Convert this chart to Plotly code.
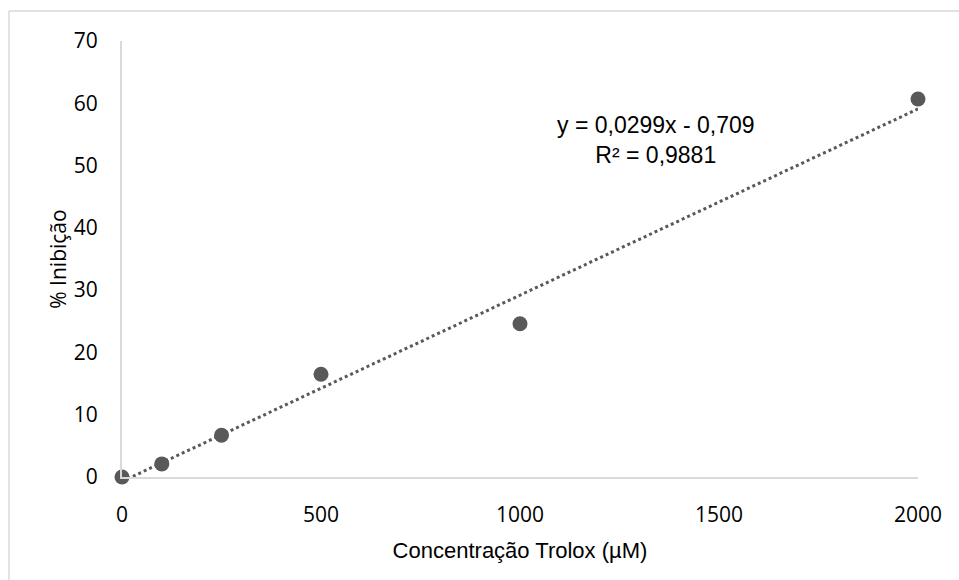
import plotly.graph_objects as go

conc = [0, 100, 250, 500, 1000, 2000]
inhib = [0, 2.1, 6.7, 16.5, 24.6, 60.7]
slope = 0.0299
intercept = -0.709
trend_x = [0, 2000]
trend_y = [slope * x + intercept for x in trend_x]
x_ticks = [0, 500, 1000, 1500, 2000]
y_ticks = [0, 10, 20, 30, 40, 50, 60, 70]

fig = go.Figure()
fig.add_trace(go.Scatter(x=trend_x, y=trend_y, mode="lines",
                         line=dict(color="#595959", width=3, dash="dot"),
                         cliponaxis=False, showlegend=False, hoverinfo="skip"))
fig.add_trace(go.Scatter(x=conc, y=inhib, mode="markers",
                         marker=dict(color="#595959", size=15),
                         cliponaxis=False, showlegend=False))

fig.update_layout(
    width=959, height=580,
    margin=dict(l=122, r=41, t=41, b=103),
    paper_bgcolor="white", plot_bgcolor="white",
    xaxis=dict(range=[0, 2000], tickvals=x_ticks, showgrid=False, zeroline=False,
               showline=True, linecolor="#d9d9d9", linewidth=2,
               ticks="outside", ticklen=18, tickcolor="rgba(0,0,0,0)",
               tickfont=dict(family="Open Sans", size=21, color="black"),
               title=dict(text="Concentração Trolox (µM)", standoff=15,
                          font=dict(family="Liberation Sans", size=22, color="black"))),
    yaxis=dict(range=[0, 70], tickvals=y_ticks, showgrid=False, zeroline=False,
               showline=True, linecolor="#d9d9d9", linewidth=2,
               ticks="outside", ticklen=18, tickcolor="rgba(0,0,0,0)",
               tickfont=dict(family="Open Sans", size=21, color="black"),
               title=dict(text="% Inibição", standoff=1,
                          font=dict(family="Open Sans", size=21, color="black"))),
    shapes=[
        dict(type="line", xref="paper", yref="paper", x0=-0.142, x1=1.2, y0=1.0688, y1=1.0688,
             line=dict(color="#d9d9d9", width=1.5)),
        dict(type="line", xref="paper", yref="paper", x0=-0.142, x1=-0.142, y0=-0.4, y1=1.0688,
             line=dict(color="#d9d9d9", width=1.5)),
    ],
    annotations=[
        dict(text="y = 0,0299x - 0,709<br>R² = 0,9881", x=1342, y=54.1, xref="x", yref="y",
             showarrow=False, align="center",
             font=dict(family="Liberation Sans", size=23, color="black")),
    ],
)

fig.write_html("out.html")
